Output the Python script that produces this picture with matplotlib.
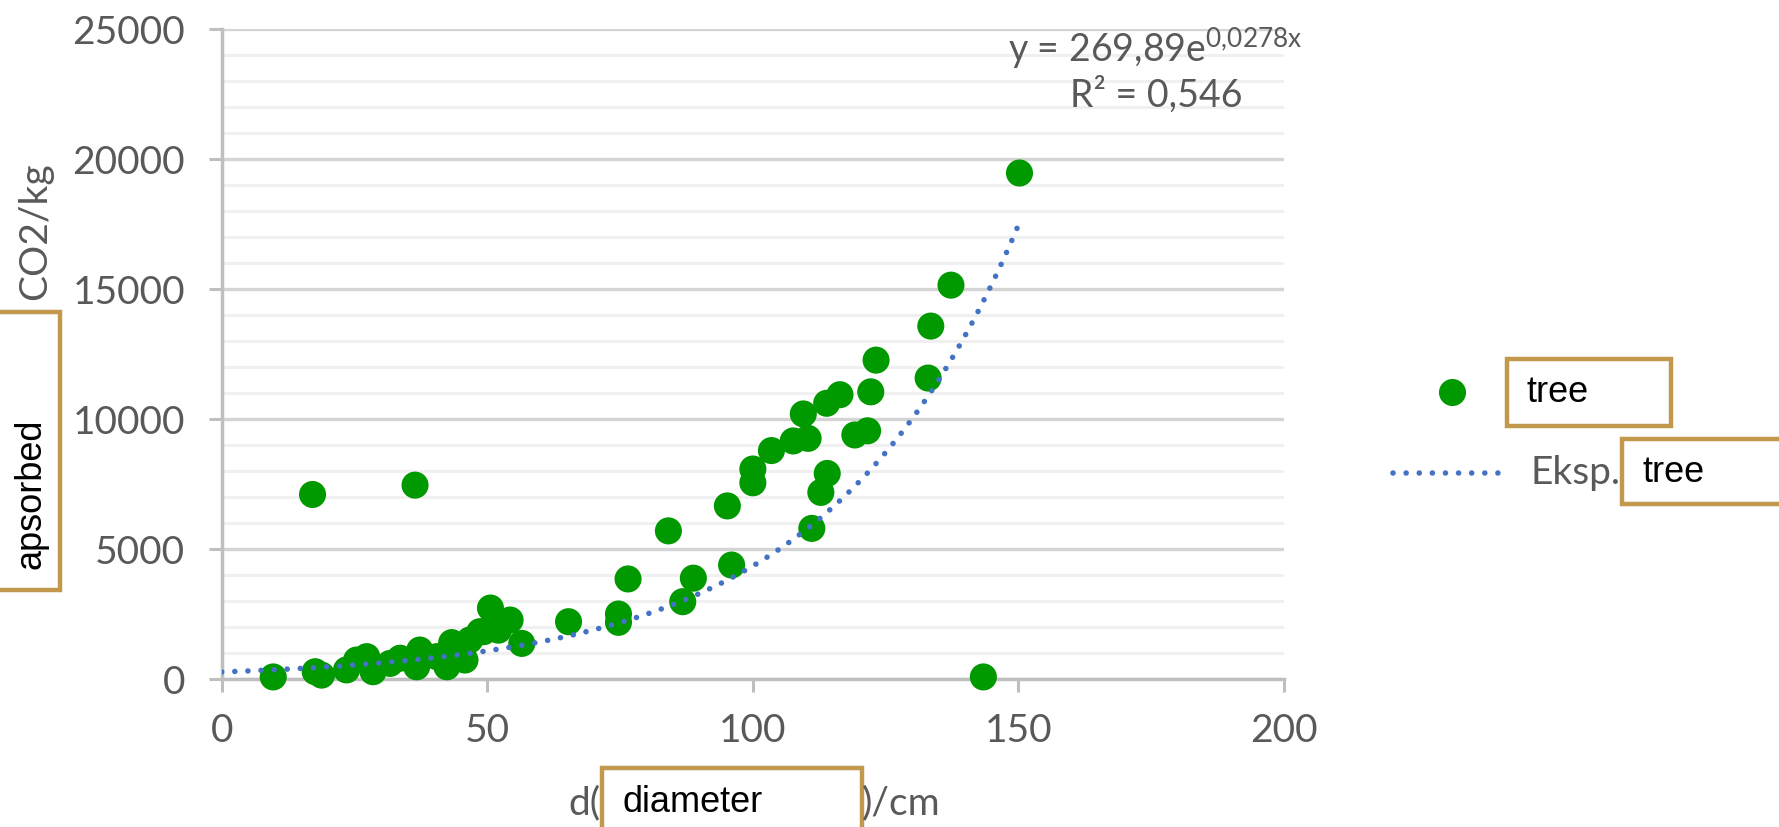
import numpy as np
import matplotlib
matplotlib.use("Agg")
import matplotlib.pyplot as plt
from matplotlib.patches import Rectangle
from matplotlib.lines import Line2D
from matplotlib.ticker import MultipleLocator

# tree diameter (cm) and absorbed CO2 (kg)
diameter = [9.7, 17.1, 17.6, 18.8, 23.5, 25.4, 27.3, 28.5, 31.7, 33.6,
            36.4, 36.7, 37.3, 40.5, 42.4, 42.4, 43.3, 45.8, 46.7, 48.6,
            49.3, 52.1, 50.6, 54.3, 56.5, 65.3, 74.7, 74.7, 76.5, 84.1,
            86.8, 88.8, 95.2, 96.0, 100.0, 100.0, 103.5, 107.6, 109.5, 110.4,
            111.1, 112.8, 114.0, 113.9, 116.4, 119.2, 121.6, 122.2, 123.2, 133.0,
            133.5, 137.3, 143.4, 150.2]
co2 = [80, 7100, 280, 150, 350, 730, 860, 280, 600, 800,
       7460, 470, 1115, 860, 470, 990, 1400, 730, 1500, 1820,
       1820, 1880, 2730, 2270, 1370, 2205, 2500, 2180, 3850, 5700,
       2975, 3880, 6660, 4385, 8080, 7550, 8790, 9160, 10200, 9260,
       5795, 7180, 7910, 10610, 10940, 9390, 9550, 11050, 12270, 11580,
       13580, 15155, 80, 19470]

# exponential trendline coefficients as printed on the chart
trend_a = 269.89
trend_b = 0.0278

W, H = 1779, 827
GRAY = "#595959"
GOLD = "#C2984C"
FS = 28
DOTS = (0, (0.01, 2.35))

plt.rcParams['font.family'] = ['Lato', 'DejaVu Sans']


def fx(x):
    return x / W


def fy(y):
    return 1 - y / H


fig = plt.figure(figsize=(W / 100, H / 100), dpi=100)
ax = fig.add_axes([fx(221.7), fy(679), (1284 - 221.7) / W, (679 - 29.3) / H])

ax.scatter(diameter, co2, s=380, color="#009900", edgecolors="none",
           zorder=3, clip_on=False)

xt = np.linspace(0, max(diameter), 300)
ax.plot(xt, trend_a * np.exp(trend_b * xt), color="#4472C4", lw=4.0,
        linestyle=DOTS, dash_capstyle="round", zorder=4)

ax.set_xlim(0, 200)
ax.set_ylim(0, 25000)
ax.xaxis.set_major_locator(MultipleLocator(50))
ax.yaxis.set_major_locator(MultipleLocator(5000))
ax.yaxis.set_minor_locator(MultipleLocator(1000))

ax.set_axisbelow(True)
ax.grid(axis="y", which="major", color="#D4D4D4", lw=2.4)
ax.grid(axis="y", which="minor", color="#F0F0F0", lw=2.2)

for s in ["top", "right"]:
    ax.spines[s].set_visible(False)
for s in ["left", "bottom"]:
    ax.spines[s].set_color("#BFBFBF")
    ax.spines[s].set_linewidth(2.5)

ax.tick_params(which="major", direction="out", length=9.4, width=2.2,
               color="#BFBFBF", labelsize=FS, labelcolor=GRAY)
ax.tick_params(axis="y", pad=17)
ax.tick_params(axis="x", pad=15)
ax.tick_params(which="minor", length=0)

# trendline equation
ax.text(fx(1155), fy(62), r"y = 269,89e$\mathregular{^{0{,}0278x}}$",
        transform=fig.transFigure, ha="center", va="baseline",
        fontsize=27, color=GRAY)
ax.text(fx(1156), fy(107), "R² = 0,546", transform=fig.transFigure,
        ha="center", va="baseline", fontsize=27, color=GRAY)

# y axis label with the pasted box
fig.text(fx(35), fy(231), "CO2/kg", rotation=90, ha="center", va="center",
         fontsize=FS, color=GRAY)
fig.add_artist(Rectangle((fx(-10), fy(590)), (70) / W, (590 - 311.7) / H,
                         transform=fig.transFigure, facecolor="white",
                         edgecolor=GOLD, lw=3.2))
fig.text(fx(31), fy(494), "apsorbed", rotation=90, ha="center", va="center",
         fontsize=26, color="black", family="Liberation Sans")

# x axis label with the pasted box
fig.text(fx(600), fy(803), "d(", ha="right", va="center", fontsize=FS, color=GRAY)
fig.text(fx(862), fy(803), ")/cm", ha="left", va="center", fontsize=FS, color=GRAY)
fig.add_artist(Rectangle((fx(601.7), fy(840)), (861.7 - 601.7) / W, (840 - 768.3) / H,
                         transform=fig.transFigure, facecolor="white",
                         edgecolor=GOLD, lw=3.2))
fig.text(fx(622), fy(803), "diameter", ha="left", va="center",
         fontsize=26, color="black", family="Liberation Sans")

# legend
fig.add_artist(Line2D([fx(1452)], [fy(391.7)], marker="o", markersize=19.5,
                      color="#009900", markeredgewidth=0, linestyle="none",
                      transform=fig.transFigure))
fig.add_artist(Rectangle((fx(1506.7), fy(426)), (1670.7 - 1506.7) / W, (426 - 359.3) / H,
                         transform=fig.transFigure, facecolor="white",
                         edgecolor=GOLD, lw=3.2))
fig.text(fx(1526.7), fy(392), "tree", ha="left", va="center",
         fontsize=26, color="black", family="Liberation Sans")

fig.add_artist(Line2D([fx(1393), fx(1505)], [fy(473.3), fy(473.3)], color="#4472C4",
                      lw=4.0, linestyle=DOTS, dash_capstyle="round",
                      transform=fig.transFigure))
fig.text(fx(1530), fy(473), "Eksp.", ha="left", va="center", fontsize=FS, color=GRAY)
fig.add_artist(Rectangle((fx(1621.7), fy(504)), (1800 - 1621.7) / W, (504 - 439) / H,
                         transform=fig.transFigure, facecolor="white",
                         edgecolor=GOLD, lw=3.2))
fig.text(fx(1642.7), fy(473), "tree", ha="left", va="center",
         fontsize=26, color="black", family="Liberation Sans")

fig.savefig("out.png", dpi=100, facecolor="white")
